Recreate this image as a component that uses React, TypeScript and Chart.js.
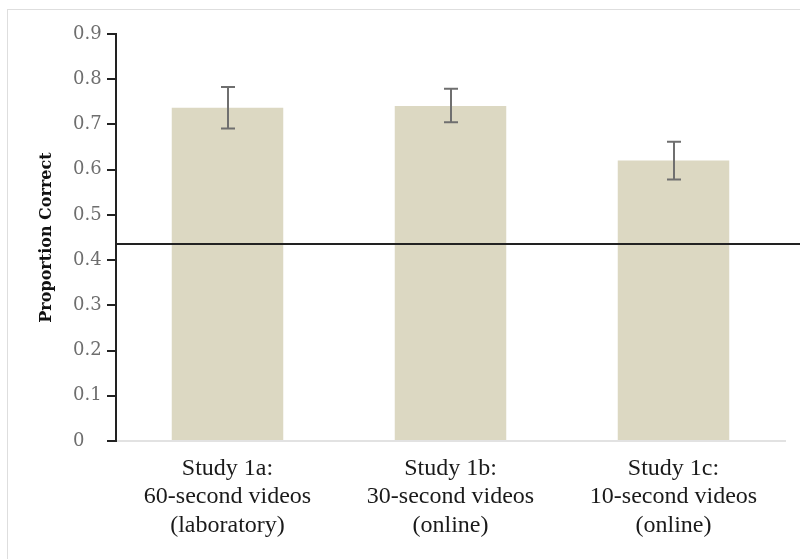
import React, { useEffect, useRef } from "react";
import { Chart, registerables } from "chart.js";

Chart.register(...registerables);

const categories: string[][] = [
  ["Study 1a:", "60-second videos", "(laboratory)"],
  ["Study 1b:", "30-second videos", "(online)"],
  ["Study 1c:", "10-second videos", "(online)"],
];
const proportionCorrect: number[] = [0.737, 0.741, 0.620];
const errorLow: number[] = [0.691, 0.705, 0.578];
const errorHigh: number[] = [0.783, 0.779, 0.662];
const chanceLevel = 0.435;
const yTicks: number[] = [0, 0.1, 0.2, 0.3, 0.4, 0.5, 0.6, 0.7, 0.8, 0.9];
const yTitle = "Proportion Correct";

const framePlugin = {
  id: "frame",
  beforeDraw(chart: any) {
    const ctx = chart.ctx;
    ctx.save();
    ctx.strokeStyle = "#dedede";
    ctx.lineWidth = 1;
    ctx.strokeRect(7.5, 9.5, 2000, 2000);
    ctx.restore();
  },
};

const overlayPlugin = {
  id: "overlay",
  afterDatasetsDraw(chart: any) {
    const ctx = chart.ctx;
    const x = chart.scales.x;
    const y = chart.scales.y;
    ctx.save();
    // error bars
    ctx.strokeStyle = "#6f6f6f";
    ctx.lineWidth = 2;
    errorLow.forEach((lo, i) => {
      const cx = Math.round(x.getPixelForValue(i));
      const yl = y.getPixelForValue(lo);
      const yh = y.getPixelForValue(errorHigh[i]);
      ctx.beginPath();
      ctx.moveTo(cx, yl);
      ctx.lineTo(cx, yh);
      ctx.moveTo(cx - 7, yl);
      ctx.lineTo(cx + 7, yl);
      ctx.moveTo(cx - 7, yh);
      ctx.lineTo(cx + 7, yh);
      ctx.stroke();
    });
    // chance line
    const yc = Math.round(y.getPixelForValue(chanceLevel));
    ctx.strokeStyle = "#222222";
    ctx.lineWidth = 2;
    ctx.beginPath();
    ctx.moveTo(chart.chartArea.left, yc);
    ctx.lineTo(chart.width, yc);
    ctx.stroke();
    ctx.restore();
  },
};

export default function App() {
  const ref = useRef<HTMLCanvasElement>(null);
  useEffect(() => {
    if (!ref.current) return;
    const chart = new Chart(ref.current, {
      type: "bar",
      data: {
        labels: categories,
        datasets: [
          {
            data: proportionCorrect,
            backgroundColor: "#dcd8c2",
            borderWidth: 0,
            categoryPercentage: 1,
            barPercentage: 0.5,
          },
        ],
      },
      options: {
        responsive: false,
        animation: false,
        layout: { padding: { top: 34, right: 15, left: 0, bottom: 0 } },
        plugins: {
          legend: { display: false },
          tooltip: { enabled: false },
        },
        scales: {
          x: {
            grid: { display: false, drawTicks: false },
            border: { display: true, color: "#e2e2e2", width: 2 },
            ticks: {
              color: "#1a1a1a",
              padding: 13,
              maxRotation: 0,
              autoSkip: false,
              font: { family: "'Liberation Serif', serif", size: 24, lineHeight: 1.19 },
            },
            afterFit(scale: any) {
              scale.height = 118;
            },
          },
          y: {
            min: 0,
            max: 0.9,
            weight: 0,
            afterBuildTicks(scale: any) {
              scale.ticks = yTicks.map((v) => ({ value: v }));
            },
            grid: {
              display: true,
              drawOnChartArea: false,
              drawTicks: true,
              tickLength: 9,
              color: "#222222",
              lineWidth: 2,
            },
            border: { display: true, color: "#222222", width: 2 },
            ticks: {
              color: "#6e6e6e",
              padding: 5,
              crossAlign: "far",
              font: { family: "'DejaVu Serif', serif", size: 18 },
              callback: (v: any) => (Number(v) === 0 ? "0" : Number(v).toFixed(1)),
            },
            afterFit(scale: any) {
              scale.width = 43;
            },
          },
          yTitleAxis: {
            type: "linear",
            position: "left",
            weight: 1,
            grid: { display: false, drawTicks: false },
            border: { display: false },
            ticks: { display: false },
            title: {
              display: true,
              text: yTitle,
              color: "#111111",
              padding: { top: 37, bottom: 0 },
              font: { family: "'DejaVu Serif', serif", size: 16, weight: "bold" },
            },
            afterFit(scale: any) {
              scale.width = 73;
            },
          },
        } as any,
      },
      plugins: [framePlugin, overlayPlugin],
    });
    return () => chart.destroy();
  }, []);
  return (
    <div style={{ position: "absolute", left: 0, top: 0, width: 800, height: 559, background: "#fff" }}>
      <canvas ref={ref} width={800} height={559} style={{ display: "block" }} />
    </div>
  );
}
